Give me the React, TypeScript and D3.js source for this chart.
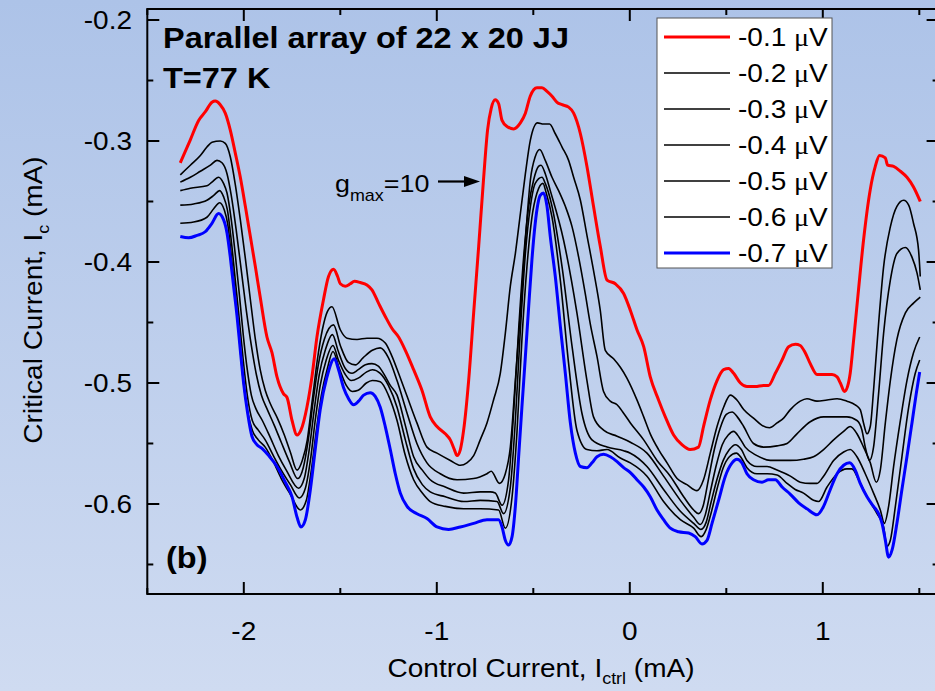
import React from "react";
import * as d3 from "d3";

type P = [number, number];

// ---- data (Control current mA, Critical current mA) ----
const seriesLabels = ["-0.1", "-0.2", "-0.3", "-0.4", "-0.5", "-0.6", "-0.7"];

const v01: P[] = [[-2.329,-0.318],[-2.277,-0.299],[-2.234,-0.283],[-2.200,-0.276],[-2.165,-0.268],[-2.148,-0.267],[-2.122,-0.270],[-2.096,-0.277],[-2.070,-0.291],[-2.044,-0.310],[-2.018,-0.330],[-1.992,-0.354],[-1.966,-0.379],[-1.940,-0.404],[-1.915,-0.429],[-1.880,-0.462],[-1.854,-0.475],[-1.828,-0.495],[-1.794,-0.509],[-1.776,-0.512],[-1.750,-0.531],[-1.724,-0.543],[-1.704,-0.539],[-1.673,-0.520],[-1.647,-0.495],[-1.621,-0.462],[-1.587,-0.431],[-1.561,-0.412],[-1.535,-0.406],[-1.514,-0.412],[-1.500,-0.418],[-1.474,-0.420],[-1.448,-0.418],[-1.427,-0.416],[-1.396,-0.417],[-1.362,-0.419],[-1.336,-0.423],[-1.302,-0.434],[-1.267,-0.445],[-1.232,-0.455],[-1.198,-0.462],[-1.163,-0.473],[-1.120,-0.489],[-1.077,-0.506],[-1.034,-0.528],[-0.999,-0.536],[-0.956,-0.542],[-0.930,-0.547],[-0.909,-0.555],[-0.895,-0.560],[-0.878,-0.555],[-0.861,-0.539],[-0.835,-0.498],[-0.809,-0.442],[-0.783,-0.387],[-0.758,-0.332],[-0.737,-0.291],[-0.718,-0.273],[-0.697,-0.266],[-0.680,-0.269],[-0.662,-0.283],[-0.636,-0.288],[-0.602,-0.290],[-0.567,-0.285],[-0.541,-0.277],[-0.516,-0.263],[-0.481,-0.256],[-0.455,-0.256],[-0.429,-0.259],[-0.403,-0.263],[-0.377,-0.268],[-0.351,-0.270],[-0.317,-0.272],[-0.291,-0.277],[-0.256,-0.294],[-0.222,-0.321],[-0.188,-0.354],[-0.153,-0.387],[-0.118,-0.415],[-0.075,-0.418],[-0.032,-0.426],[0.003,-0.440],[0.037,-0.456],[0.072,-0.470],[0.106,-0.495],[0.149,-0.514],[0.184,-0.528],[0.227,-0.543],[0.270,-0.551],[0.313,-0.555],[0.356,-0.553],[0.382,-0.536],[0.417,-0.514],[0.452,-0.498],[0.486,-0.489],[0.512,-0.488],[0.538,-0.492],[0.573,-0.500],[0.607,-0.503],[0.650,-0.503],[0.693,-0.502],[0.719,-0.502],[0.754,-0.492],[0.789,-0.481],[0.823,-0.470],[0.858,-0.468],[0.883,-0.469],[0.909,-0.475],[0.935,-0.484],[0.970,-0.493],[1.004,-0.493],[1.048,-0.493],[1.074,-0.495],[1.091,-0.500],[1.112,-0.507],[1.128,-0.503],[1.142,-0.492],[1.160,-0.464],[1.185,-0.423],[1.211,-0.382],[1.246,-0.340],[1.272,-0.321],[1.294,-0.312],[1.324,-0.314],[1.336,-0.320],[1.367,-0.321],[1.402,-0.325],[1.436,-0.330],[1.470,-0.338],[1.505,-0.350]];

const v02: P[] = [[-2.329,-0.328],[-2.277,-0.320],[-2.225,-0.312],[-2.191,-0.305],[-2.165,-0.301],[-2.122,-0.300],[-2.096,-0.302],[-2.070,-0.313],[-2.044,-0.336],[-2.018,-0.365],[-1.992,-0.397],[-1.966,-0.431],[-1.940,-0.464],[-1.915,-0.489],[-1.889,-0.506],[-1.863,-0.517],[-1.826,-0.529],[-1.790,-0.543],[-1.759,-0.557],[-1.724,-0.572],[-1.697,-0.564],[-1.671,-0.547],[-1.645,-0.514],[-1.619,-0.481],[-1.593,-0.456],[-1.567,-0.441],[-1.543,-0.437],[-1.500,-0.456],[-1.465,-0.463],[-1.413,-0.464],[-1.362,-0.463],[-1.310,-0.463],[-1.267,-0.467],[-1.232,-0.478],[-1.198,-0.492],[-1.154,-0.511],[-1.103,-0.533],[-1.051,-0.553],[-0.999,-0.558],[-0.930,-0.564],[-0.878,-0.568],[-0.844,-0.566],[-0.809,-0.560],[-0.775,-0.547],[-0.740,-0.533],[-0.706,-0.514],[-0.671,-0.492],[-0.645,-0.459],[-0.619,-0.420],[-0.593,-0.393],[-0.567,-0.360],[-0.541,-0.327],[-0.515,-0.299],[-0.478,-0.285],[-0.447,-0.286],[-0.416,-0.286],[-0.386,-0.294],[-0.351,-0.305],[-0.317,-0.316],[-0.291,-0.330],[-0.256,-0.349],[-0.222,-0.378],[-0.188,-0.407],[-0.153,-0.440],[-0.127,-0.473],[-0.084,-0.480],[-0.049,-0.487],[-0.015,-0.496],[0.037,-0.514],[0.072,-0.528],[0.106,-0.542],[0.149,-0.555],[0.193,-0.566],[0.245,-0.579],[0.296,-0.584],[0.348,-0.589],[0.382,-0.580],[0.417,-0.558],[0.452,-0.536],[0.486,-0.520],[0.521,-0.510],[0.555,-0.514],[0.590,-0.522],[0.641,-0.529],[0.685,-0.535],[0.724,-0.537],[0.763,-0.533],[0.797,-0.529],[0.832,-0.522],[0.883,-0.515],[0.918,-0.513],[0.970,-0.515],[1.022,-0.514],[1.074,-0.513],[1.125,-0.515],[1.168,-0.518],[1.194,-0.522],[1.211,-0.533],[1.229,-0.542],[1.246,-0.536],[1.263,-0.506],[1.289,-0.451],[1.315,-0.404],[1.350,-0.371],[1.384,-0.354],[1.419,-0.349],[1.445,-0.353],[1.470,-0.368],[1.496,-0.390],[1.505,-0.412]];

const v03: P[] = [[-2.329,-0.334],[-2.277,-0.330],[-2.225,-0.325],[-2.173,-0.320],[-2.139,-0.316],[-2.113,-0.318],[-2.087,-0.327],[-2.065,-0.345],[-2.039,-0.374],[-2.013,-0.407],[-1.987,-0.440],[-1.961,-0.469],[-1.935,-0.493],[-1.909,-0.510],[-1.878,-0.522],[-1.842,-0.535],[-1.806,-0.549],[-1.764,-0.565],[-1.721,-0.579],[-1.692,-0.570],[-1.666,-0.547],[-1.640,-0.514],[-1.614,-0.485],[-1.583,-0.464],[-1.535,-0.452],[-1.500,-0.469],[-1.458,-0.483],[-1.422,-0.485],[-1.381,-0.479],[-1.334,-0.473],[-1.293,-0.471],[-1.251,-0.479],[-1.206,-0.498],[-1.154,-0.525],[-1.103,-0.550],[-1.051,-0.566],[-0.982,-0.575],[-0.895,-0.580],[-0.809,-0.579],[-0.740,-0.575],[-0.718,-0.573],[-0.675,-0.583],[-0.645,-0.575],[-0.619,-0.553],[-0.593,-0.498],[-0.567,-0.442],[-0.541,-0.382],[-0.515,-0.332],[-0.490,-0.313],[-0.467,-0.307],[-0.438,-0.316],[-0.403,-0.330],[-0.369,-0.341],[-0.334,-0.354],[-0.299,-0.371],[-0.265,-0.396],[-0.231,-0.426],[-0.205,-0.451],[-0.170,-0.478],[-0.136,-0.507],[-0.101,-0.515],[-0.066,-0.518],[-0.032,-0.525],[0.003,-0.533],[0.072,-0.547],[0.141,-0.564],[0.210,-0.577],[0.279,-0.594],[0.331,-0.605],[0.356,-0.608],[0.381,-0.601],[0.407,-0.580],[0.438,-0.555],[0.469,-0.537],[0.500,-0.526],[0.530,-0.524],[0.557,-0.528],[0.590,-0.536],[0.641,-0.550],[0.693,-0.553],[0.763,-0.552],[0.815,-0.550],[0.866,-0.542],[0.935,-0.532],[1.004,-0.528],[1.074,-0.528],[1.125,-0.528],[1.177,-0.531],[1.203,-0.539],[1.220,-0.553],[1.242,-0.564],[1.263,-0.553],[1.289,-0.509],[1.315,-0.459],[1.350,-0.415],[1.384,-0.393],[1.428,-0.388],[1.462,-0.396],[1.488,-0.409],[1.505,-0.423]];

const v04: P[] = [[-2.329,-0.341],[-2.277,-0.339],[-2.191,-0.337],[-2.165,-0.334],[-2.131,-0.330],[-2.105,-0.335],[-2.087,-0.343],[-2.065,-0.365],[-2.044,-0.394],[-2.023,-0.427],[-2.003,-0.460],[-1.982,-0.489],[-1.961,-0.510],[-1.935,-0.522],[-1.904,-0.531],[-1.863,-0.545],[-1.821,-0.560],[-1.780,-0.572],[-1.716,-0.587],[-1.687,-0.579],[-1.661,-0.555],[-1.635,-0.522],[-1.609,-0.493],[-1.578,-0.473],[-1.541,-0.460],[-1.510,-0.474],[-1.474,-0.488],[-1.439,-0.492],[-1.407,-0.489],[-1.370,-0.485],[-1.336,-0.484],[-1.303,-0.486],[-1.276,-0.492],[-1.241,-0.502],[-1.206,-0.510],[-1.163,-0.535],[-1.120,-0.561],[-1.075,-0.572],[-1.034,-0.580],[-0.956,-0.586],[-0.861,-0.591],[-0.775,-0.590],[-0.723,-0.590],[-0.697,-0.591],[-0.662,-0.601],[-0.628,-0.580],[-0.602,-0.525],[-0.576,-0.456],[-0.550,-0.396],[-0.524,-0.354],[-0.498,-0.332],[-0.473,-0.321],[-0.460,-0.320],[-0.438,-0.327],[-0.412,-0.341],[-0.343,-0.382],[-0.274,-0.442],[-0.222,-0.498],[-0.188,-0.528],[-0.136,-0.539],[-0.066,-0.544],[0.003,-0.549],[0.089,-0.558],[0.175,-0.577],[0.262,-0.597],[0.331,-0.611],[0.365,-0.617],[0.391,-0.609],[0.417,-0.590],[0.448,-0.568],[0.479,-0.551],[0.510,-0.543],[0.538,-0.540],[0.567,-0.545],[0.598,-0.553],[0.659,-0.560],[0.728,-0.564],[0.832,-0.564],[0.900,-0.563],[0.952,-0.561],[1.004,-0.555],[1.056,-0.547],[1.108,-0.540],[1.142,-0.536],[1.177,-0.542],[1.211,-0.553],[1.246,-0.566],[1.277,-0.582],[1.298,-0.572],[1.324,-0.533],[1.350,-0.498],[1.384,-0.464],[1.428,-0.442],[1.470,-0.434],[1.505,-0.429]];

const v05: P[] = [[-2.329,-0.353],[-2.260,-0.352],[-2.191,-0.349],[-2.156,-0.345],[-2.125,-0.341],[-2.105,-0.346],[-2.085,-0.357],[-2.065,-0.382],[-2.044,-0.415],[-2.023,-0.448],[-2.003,-0.481],[-1.982,-0.510],[-1.956,-0.531],[-1.925,-0.539],[-1.889,-0.547],[-1.847,-0.560],[-1.806,-0.572],[-1.759,-0.584],[-1.712,-0.595],[-1.681,-0.587],[-1.655,-0.564],[-1.630,-0.531],[-1.604,-0.502],[-1.573,-0.481],[-1.538,-0.469],[-1.510,-0.481],[-1.474,-0.493],[-1.443,-0.498],[-1.407,-0.496],[-1.365,-0.491],[-1.334,-0.489],[-1.293,-0.492],[-1.251,-0.502],[-1.206,-0.520],[-1.163,-0.547],[-1.120,-0.571],[-1.075,-0.584],[-1.034,-0.590],[-0.956,-0.594],[-0.861,-0.598],[-0.775,-0.597],[-0.688,-0.598],[-0.654,-0.608],[-0.619,-0.586],[-0.593,-0.531],[-0.567,-0.456],[-0.541,-0.393],[-0.515,-0.354],[-0.490,-0.335],[-0.455,-0.330],[-0.438,-0.335],[-0.403,-0.354],[-0.351,-0.404],[-0.299,-0.470],[-0.248,-0.525],[-0.196,-0.547],[-0.118,-0.553],[-0.032,-0.556],[0.003,-0.558],[0.089,-0.569],[0.175,-0.588],[0.262,-0.606],[0.331,-0.616],[0.369,-0.621],[0.396,-0.615],[0.422,-0.598],[0.453,-0.579],[0.484,-0.564],[0.516,-0.555],[0.547,-0.551],[0.578,-0.555],[0.607,-0.564],[0.659,-0.569],[0.711,-0.569],[0.763,-0.572],[0.832,-0.577],[0.883,-0.582],[0.935,-0.583],[0.970,-0.583],[1.004,-0.577],[1.056,-0.564],[1.108,-0.557],[1.142,-0.555],[1.177,-0.561],[1.220,-0.575],[1.263,-0.591],[1.298,-0.605],[1.319,-0.616],[1.341,-0.602],[1.367,-0.569],[1.402,-0.531],[1.436,-0.498],[1.470,-0.475],[1.502,-0.462]];

const v06: P[] = [[-2.329,-0.368],[-2.260,-0.367],[-2.191,-0.363],[-2.156,-0.356],[-2.125,-0.351],[-2.101,-0.357],[-2.083,-0.369],[-2.065,-0.394],[-2.044,-0.427],[-2.023,-0.464],[-2.003,-0.498],[-1.982,-0.522],[-1.956,-0.539],[-1.925,-0.547],[-1.889,-0.553],[-1.847,-0.565],[-1.806,-0.579],[-1.759,-0.592],[-1.707,-0.605],[-1.676,-0.597],[-1.650,-0.572],[-1.624,-0.539],[-1.598,-0.510],[-1.567,-0.488],[-1.538,-0.474],[-1.505,-0.488],[-1.469,-0.502],[-1.438,-0.507],[-1.407,-0.506],[-1.365,-0.500],[-1.334,-0.498],[-1.293,-0.499],[-1.251,-0.510],[-1.206,-0.531],[-1.163,-0.560],[-1.120,-0.580],[-1.075,-0.591],[-1.034,-0.598],[-0.956,-0.602],[-0.861,-0.604],[-0.775,-0.604],[-0.680,-0.605],[-0.645,-0.620],[-0.610,-0.594],[-0.584,-0.539],[-0.559,-0.464],[-0.533,-0.404],[-0.507,-0.363],[-0.481,-0.343],[-0.450,-0.335],[-0.433,-0.343],[-0.403,-0.363],[-0.360,-0.415],[-0.317,-0.484],[-0.274,-0.539],[-0.222,-0.555],[-0.170,-0.556],[-0.118,-0.555],[-0.049,-0.562],[0.003,-0.566],[0.089,-0.577],[0.175,-0.598],[0.262,-0.613],[0.331,-0.620],[0.370,-0.627],[0.396,-0.621],[0.422,-0.607],[0.453,-0.587],[0.484,-0.570],[0.516,-0.561],[0.552,-0.558],[0.578,-0.562],[0.607,-0.570],[0.659,-0.575],[0.711,-0.575],[0.763,-0.576],[0.815,-0.583],[0.857,-0.588],[0.900,-0.591],[0.952,-0.597],[0.978,-0.598],[1.022,-0.586],[1.074,-0.575],[1.125,-0.571],[1.151,-0.571],[1.186,-0.580],[1.229,-0.594],[1.281,-0.608],[1.315,-0.619],[1.333,-0.635],[1.350,-0.630],[1.376,-0.602],[1.410,-0.561],[1.445,-0.520],[1.479,-0.492],[1.502,-0.481]];

const v07: P[] = [[-2.329,-0.379],[-2.286,-0.380],[-2.242,-0.378],[-2.200,-0.375],[-2.165,-0.368],[-2.131,-0.360],[-2.105,-0.365],[-2.087,-0.376],[-2.070,-0.396],[-2.053,-0.420],[-2.035,-0.445],[-2.018,-0.473],[-2.001,-0.500],[-1.980,-0.525],[-1.958,-0.544],[-1.932,-0.551],[-1.906,-0.554],[-1.871,-0.560],[-1.828,-0.569],[-1.785,-0.582],[-1.750,-0.594],[-1.724,-0.611],[-1.704,-0.619],[-1.681,-0.613],[-1.655,-0.588],[-1.630,-0.555],[-1.604,-0.522],[-1.569,-0.495],[-1.531,-0.480],[-1.509,-0.489],[-1.483,-0.504],[-1.457,-0.513],[-1.431,-0.518],[-1.405,-0.515],[-1.379,-0.510],[-1.345,-0.508],[-1.319,-0.511],[-1.293,-0.520],[-1.267,-0.536],[-1.241,-0.555],[-1.215,-0.575],[-1.189,-0.591],[-1.154,-0.602],[-1.103,-0.608],[-1.051,-0.612],[-0.999,-0.619],[-0.939,-0.621],[-0.878,-0.619],[-0.809,-0.616],[-0.740,-0.613],[-0.680,-0.613],[-0.662,-0.619],[-0.645,-0.630],[-0.628,-0.634],[-0.610,-0.627],[-0.593,-0.602],[-0.576,-0.561],[-0.559,-0.520],[-0.541,-0.478],[-0.524,-0.437],[-0.507,-0.398],[-0.490,-0.368],[-0.464,-0.345],[-0.447,-0.343],[-0.429,-0.354],[-0.412,-0.379],[-0.386,-0.412],[-0.360,-0.453],[-0.334,-0.492],[-0.308,-0.533],[-0.282,-0.558],[-0.256,-0.569],[-0.222,-0.570],[-0.196,-0.566],[-0.170,-0.561],[-0.136,-0.559],[-0.101,-0.561],[-0.066,-0.565],[-0.032,-0.570],[0.003,-0.574],[0.037,-0.580],[0.072,-0.586],[0.106,-0.594],[0.141,-0.605],[0.175,-0.613],[0.210,-0.620],[0.253,-0.623],[0.305,-0.624],[0.339,-0.627],[0.374,-0.633],[0.400,-0.630],[0.426,-0.616],[0.460,-0.597],[0.495,-0.577],[0.530,-0.566],[0.555,-0.563],[0.581,-0.566],[0.607,-0.575],[0.641,-0.580],[0.685,-0.582],[0.719,-0.580],[0.754,-0.580],[0.789,-0.586],[0.832,-0.592],[0.875,-0.599],[0.918,-0.604],[0.970,-0.609],[1.004,-0.602],[1.039,-0.588],[1.074,-0.575],[1.108,-0.568],[1.139,-0.566],[1.168,-0.572],[1.194,-0.583],[1.229,-0.594],[1.263,-0.602],[1.289,-0.608],[1.307,-0.616],[1.324,-0.630],[1.341,-0.644],[1.359,-0.638],[1.384,-0.616],[1.410,-0.588],[1.436,-0.561],[1.462,-0.533],[1.484,-0.509],[1.502,-0.491]];

const seriesData: P[][] = [v01, v02, v03, v04, v05, v06, v07];
const seriesColors = ["#ff0000", "#000000", "#000000", "#000000", "#000000", "#000000", "#0000ff"];

const xMajorTicks = [-2, -1, 0, 1];
const xTickLabels = ["-2", "-1", "0", "1"];
const xMinorTicks = [-2.5, -1.5, -0.5, 0.5, 1.5];
const yMajorTicks = [-0.2, -0.3, -0.4, -0.5, -0.6];
const yTickLabels = ["-0.2", "-0.3", "-0.4", "-0.5", "-0.6"];
const yMinorTicks = [-0.25, -0.35, -0.45, -0.55, -0.65];

const W = 935;
const H = 691;
const SX = 1.12;
const FONT = "'Liberation Sans', Arial, Helvetica, sans-serif";

const x = d3.scaleLinear().domain([-2.5, 1.6]).range([147.3, 938.6]);
const y = d3.scaleLinear().domain([-0.6744, -0.1909]).range([594, 9]);

const lineGen = d3
  .line<P>()
  .x((d) => x(d[0]))
  .y((d) => y(d[1]))
  .curve(d3.curveMonotoneX);

function T(props: {
  x: number;
  y: number;
  size: number;
  anchor?: string;
  weight?: string | number;
  rotate?: number;
  children: React.ReactNode;
}) {
  const { x: tx, y: ty, size, anchor = "start", weight = "normal", rotate, children } = props;
  const tf = `translate(${tx},${ty})${rotate ? ` rotate(${rotate})` : ""} scale(${SX},1)`;
  return (
    <text transform={tf} fontSize={size} fontFamily={FONT} fontWeight={weight} textAnchor={anchor} fill="#000">
      {children}
    </text>
  );
}

export default function App() {
  const left = x(-2.5);
  const right = x(1.6);
  const top = y(-0.1909);
  const bottom = y(-0.6744);
  const major = 12;
  const minor = 6;

  const legX = 657;
  const legY = 18;
  const legW = 175;
  const legH = 250;
  const rowY = (i: number) => 37 + i * 36;

  return (
    <div style={{ position: "absolute", left: 0, top: 0 }}>
      <svg width={W} height={H} viewBox={`0 0 ${W} ${H}`} style={{ display: "block" }}>
        <defs>
          <linearGradient id="bg" x1="0" y1="0" x2="0" y2="1">
            <stop offset="0" stopColor="#adc3e8" />
            <stop offset="1" stopColor="#cfdbf1" />
          </linearGradient>
        </defs>
        <rect x={0} y={0} width={W} height={H} fill="url(#bg)" />

        {/* curves */}
        {seriesData.map((d, i) => (
          <path
            key={i}
            d={lineGen(d) || ""}
            fill="none"
            stroke={seriesColors[i]}
            strokeWidth={i === 0 || i === 6 ? 3 : 1.6}
            strokeLinejoin="round"
          />
        ))}

        {/* frame */}
        <rect x={left} y={top} width={right - left} height={bottom - top} fill="none" stroke="#000" strokeWidth={2} />

        {/* x ticks bottom and top */}
        {xMajorTicks.map((t) => (
          <g key={"xm" + t}>
            <line x1={x(t)} x2={x(t)} y1={bottom} y2={bottom - major} stroke="#000" strokeWidth={2} />
            <line x1={x(t)} x2={x(t)} y1={top} y2={top + major} stroke="#000" strokeWidth={2} />
          </g>
        ))}
        {xMinorTicks.map((t) => (
          <g key={"xn" + t}>
            <line x1={x(t)} x2={x(t)} y1={bottom} y2={bottom - minor} stroke="#000" strokeWidth={2} />
            <line x1={x(t)} x2={x(t)} y1={top} y2={top + minor} stroke="#000" strokeWidth={2} />
          </g>
        ))}
        {xMajorTicks.map((t, i) => (
          <T key={"xl" + t} x={x(t)} y={640} size={25} anchor="middle">
            {xTickLabels[i]}
          </T>
        ))}

        {/* y ticks left and right */}
        {yMajorTicks.map((t) => (
          <g key={"ym" + t}>
            <line x1={left} x2={left + major} y1={y(t)} y2={y(t)} stroke="#000" strokeWidth={2} />
            <line x1={right} x2={right - major} y1={y(t)} y2={y(t)} stroke="#000" strokeWidth={2} />
          </g>
        ))}
        {yMinorTicks.map((t) => (
          <g key={"yn" + t}>
            <line x1={left} x2={left + minor} y1={y(t)} y2={y(t)} stroke="#000" strokeWidth={2} />
            <line x1={right} x2={right - minor} y1={y(t)} y2={y(t)} stroke="#000" strokeWidth={2} />
          </g>
        ))}
        {yMajorTicks.map((t, i) => (
          <T key={"yl" + t} x={132} y={y(t) + 9} size={25} anchor="end">
            {yTickLabels[i]}
          </T>
        ))}

        {/* axis titles */}
        <T x={541} y={677} size={25} anchor="middle">
          <tspan>Control Current, I</tspan>
          <tspan dy={7} fontSize={16}>ctrl</tspan>
          <tspan dy={-7}> (mA)</tspan>
        </T>
        <T x={42} y={300} size={25} anchor="middle" rotate={-90}>
          <tspan>Critical Current, I</tspan>
          <tspan dy={7} fontSize={16}>c</tspan>
          <tspan dy={-7}> (mA)</tspan>
        </T>

        {/* title annotations */}
        <T x={163} y={48} size={29} weight="bold">Parallel array of 22 x 20 JJ</T>
        <T x={163} y={88} size={29} weight="bold">T=77 K</T>
        <T x={166} y={568} size={29} weight="bold">(b)</T>

        {/* g_max annotation */}
        <T x={335} y={192} size={24}>
          <tspan>g</tspan>
          <tspan dy={9} fontSize={16}>max</tspan>
          <tspan dy={-9}>=10</tspan>
        </T>
        <line x1={438} x2={468} y1={181.5} y2={181.5} stroke="#000" strokeWidth={2.2} />
        <path d="M 480 181.5 L 464 176 L 464 187 Z" fill="#000" />

        {/* legend */}
        <rect x={legX} y={legY} width={legW} height={legH} fill="#ffffff" stroke="#555" strokeWidth={1} />
        {seriesLabels.map((lab, i) => (
          <g key={"lg" + i}>
            <line
              x1={664}
              x2={730}
              y1={rowY(i)}
              y2={rowY(i)}
              stroke={seriesColors[i]}
              strokeWidth={i === 0 || i === 6 ? 3 : 1.6}
            />
            <T x={738} y={rowY(i) + 9} size={25}>
              <tspan>{lab} </tspan>
              <tspan fontFamily="'Liberation Serif', 'Times New Roman', serif">μ</tspan>
              <tspan>V</tspan>
            </T>
          </g>
        ))}
      </svg>
    </div>
  );
}
